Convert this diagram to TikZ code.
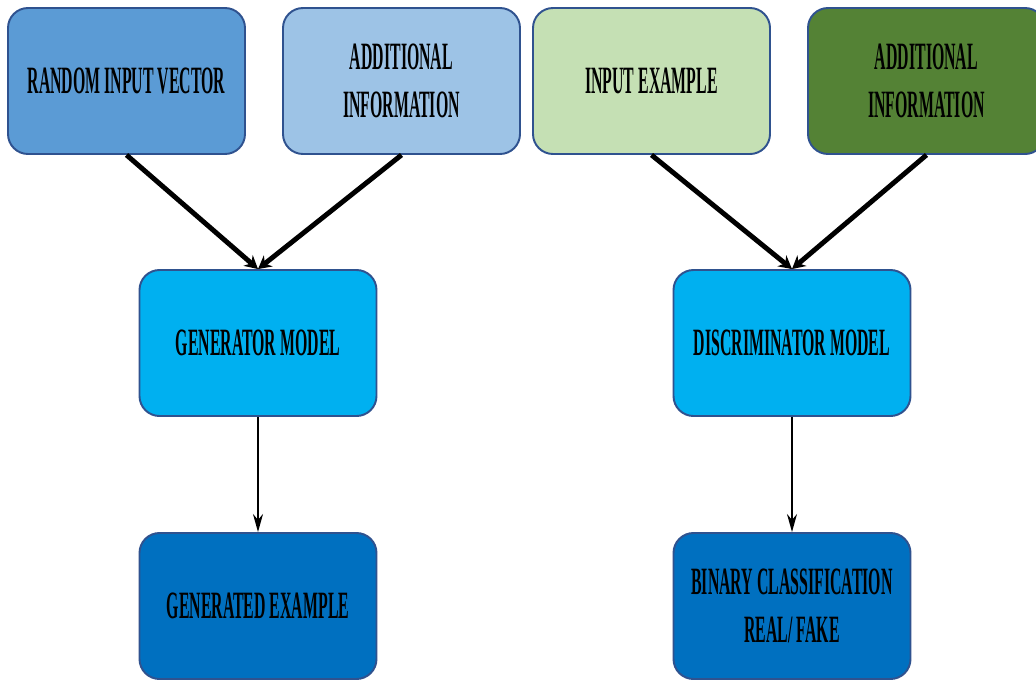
\documentclass[tikz,border=0pt]{standalone}
\usepackage{fontspec}
\usepackage{xcolor}
\usetikzlibrary{arrows.meta,positioning}
\newfontfamily\boxfont[FakeStretch=0.41]{Liberation Serif}
\definecolor{rim}{HTML}{2F528F}
\definecolor{midblue}{HTML}{5B9BD5}
\definecolor{paleblue}{HTML}{9DC3E6}
\definecolor{palegreen}{HTML}{C5E0B4}
\definecolor{darkgreen}{HTML}{548235}
\definecolor{skyblue}{HTML}{00B0F0}
\definecolor{deepblue}{HTML}{0070C0}
\tikzset{
  font=\boxfont\bfseries\fontsize{22}{27}\selectfont,
  box/.style={rounded corners=4mm,draw=rim,line width=1.1pt,minimum width=47.4mm,minimum height=29.2mm,align=center,text=black},
  feed/.style={-{Stealth[length=2.6mm,width=2.8mm]},line width=2.8pt,draw=black},
  pass/.style={-{Stealth[length=3.6mm,width=2mm]},line width=1.1pt,draw=black}
}
\begin{document}
\begin{tikzpicture}
\clip (0,0) rectangle (20.72,-13.62);
\fill[white] (0,0) rectangle (20.72,-13.62);
% top row
\node[box,fill=midblue] (noise) at (2.53,-1.62) {RANDOM INPUT VECTOR};
\node[box,fill=paleblue] (infoG) at (8.03,-1.62) {ADDITIONAL\\INFORMATION};
\node[box,fill=palegreen] (sample) at (13.03,-1.62) {INPUT EXAMPLE};
\node[box,fill=darkgreen] (infoD) at (18.53,-1.62) {ADDITIONAL\\INFORMATION};
% models
\node[box,fill=skyblue] (gen) at (5.16,-6.86) {GENERATOR MODEL};
\node[box,fill=skyblue] (disc) at (15.84,-6.86) {DISCRIMINATOR MODEL};
% outputs
\node[box,fill=deepblue] (fake) at (5.16,-12.12) {GENERATED EXAMPLE};
\node[box,fill=deepblue] (label) at (15.84,-12.12) {BINARY CLASSIFICATION\\REAL/ FAKE};
\draw[feed] (noise.south) -- (gen.north);
\draw[feed] (infoG.south) -- (gen.north);
\draw[feed] (sample.south) -- (disc.north);
\draw[feed] (infoD.south) -- (disc.north);
\draw[pass] (gen) -- (fake);
\draw[pass] (disc) -- (label);
\end{tikzpicture}
\end{document}
